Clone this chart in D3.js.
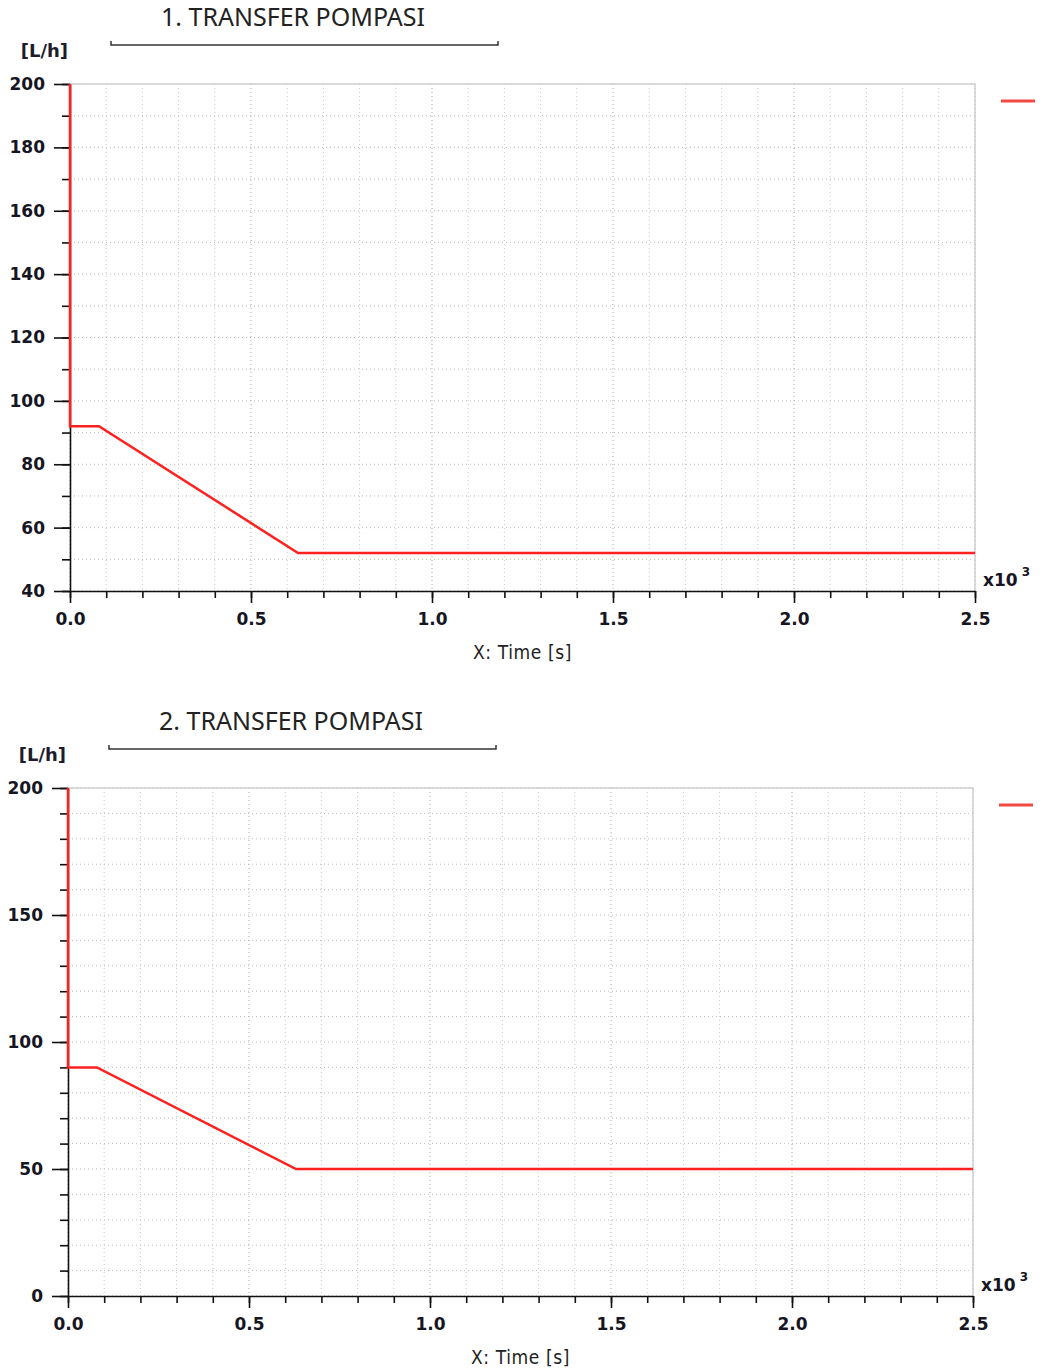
<!DOCTYPE html>
<html lang="en">
<head>
    <meta charset="utf-8" />
    <script src="https://cdn.jsdelivr.net/npm/d3@7"></script>
    <title>Transfer Pompasi</title>
    <style>
        body { margin: 0; background: #fff; }
        svg { display: block; }
        .tick text { font-family: "DejaVu Sans", sans-serif; font-weight: bold; font-size: 17px; fill: #161622; }
    </style>
</head>
<body>
    <div id="container"></div>
    <script>
        // data (time in seconds, flow in L/h)
        const timeS = [0, 0, 80, 630, 2500];
        const flow1 = [200, 92, 92, 52, 52];
        const flow2 = [200, 90, 90, 50, 50];
        const titles = ["1. TRANSFER POMPASI", "2. TRANSFER POMPASI"];
        const xTicks = [0, 500, 1000, 1500, 2000, 2500];
        const xMinor = d3.range(0, 2501, 100);
        const y1Ticks = [40, 60, 80, 100, 120, 140, 160, 180, 200];
        const y1Minor = d3.range(40, 201, 10);
        const y2Ticks = [0, 50, 100, 150, 200];
        const y2Minor = d3.range(0, 201, 10);

        const W = 1040, H = 1371;
        const svg = d3.select("#container").append("svg").attr("width", W).attr("height", H);

        function drawChart(opt) {
            const g = svg.append("g");
            const x = d3.scaleLinear().domain([0, 2500]).range([opt.left, opt.right]);
            const y = d3.scaleLinear().domain(opt.yDomain).range([opt.bottom, opt.top]);

            // dotted grid
            g.append("g").selectAll("line").data(opt.yMinor).join("line")
                .attr("x1", opt.left).attr("x2", opt.right)
                .attr("y1", d => y(d)).attr("y2", d => y(d))
                .attr("stroke", "#bdbdbd").attr("stroke-dasharray", "1,3");
            g.append("g").selectAll("line").data(xMinor).join("line")
                .attr("y1", opt.top).attr("y2", opt.bottom)
                .attr("x1", d => x(d)).attr("x2", d => x(d))
                .attr("stroke", d => d % 500 == 0 ? "#a8a8a8" : "#c8c8c8").attr("stroke-dasharray", "1,3");

            // top and right frame
            g.append("path")
                .attr("d", "M" + opt.left + "," + opt.top + "H" + opt.right + "V" + opt.bottom)
                .attr("fill", "none").attr("stroke", "#cfcfcf").attr("stroke-width", 1.5);

            // minor ticks
            g.append("g").attr("transform", "translate(" + opt.left + ",0)")
                .call(d3.axisLeft(y).tickValues(opt.yMinor).tickSize(8).tickFormat(""))
                .call(a => a.select(".domain").remove());
            g.append("g").attr("transform", "translate(0," + opt.bottom + ")")
                .call(d3.axisBottom(x).tickValues(xMinor).tickSize(7).tickFormat(""))
                .call(a => a.select(".domain").remove());

            // major axes
            g.append("g").attr("transform", "translate(" + opt.left + ",0)")
                .call(d3.axisLeft(y).tickValues(opt.yTicks).tickSize(16).tickSizeOuter(0).tickPadding(9));
            g.append("g").attr("transform", "translate(0," + opt.bottom + ")")
                .call(d3.axisBottom(x).tickValues(xTicks).tickSize(12).tickSizeOuter(0).tickPadding(10)
                    .tickFormat(d => (d / 1000).toFixed(1)));
            g.selectAll(".tick line, .domain").attr("stroke", "#111").attr("stroke-width", 1.6);

            // series
            const pts = timeS.map((t, i) => [t, opt.values[i]]);
            g.append("path").datum(pts)
                .attr("d", d3.line().x(d => x(d[0])).y(d => y(d[1])))
                .attr("fill", "none").attr("stroke", "#ff2020").attr("stroke-width", 2.5);

            // legend swatch
            g.append("line")
                .attr("x1", opt.right + 26).attr("x2", opt.right + 60)
                .attr("y1", opt.top + 17).attr("y2", opt.top + 17)
                .attr("stroke", "#f24a42").attr("stroke-width", 3);

            // title + bracket
            g.append("text").attr("x", opt.left + 223).attr("y", opt.top - 58)
                .attr("text-anchor", "middle")
                .style("font-family", "'Noto Sans', sans-serif").style("font-size", "25px").style("fill", "#222")
                .text(opt.title);
            const by = opt.top - 39;
            g.append("path")
                .attr("d", "M" + (opt.left + 41) + "," + (by - 4) + "V" + by + "H" + (opt.left + 428) + "V" + (by - 4))
                .attr("fill", "none").attr("stroke", "#333").attr("stroke-width", 1.5);

            // unit label
            g.append("text").attr("x", opt.left - 2).attr("y", opt.top - 27)
                .attr("text-anchor", "end")
                .style("font-family", "'DejaVu Sans', sans-serif").style("font-weight", "bold").style("font-size", "18px").style("fill", "#1c1c2c")
                .text("[L/h]");

            // x10^3
            const e = g.append("text").attr("x", opt.right + 8).attr("y", opt.bottom - 5)
                .style("font-family", "'DejaVu Sans', sans-serif").style("font-weight", "bold").style("font-size", "17px").style("fill", "#161622");
            e.append("tspan").text("x10");
            e.append("tspan").attr("dx", 4).attr("dy", -10).style("font-size", "12px").text("3");

            // x title
            g.append("text").attr("x", (opt.left + opt.right) / 2).attr("y", opt.bottom + 68)
                .attr("text-anchor", "middle")
                .style("font-family", "'DejaVu Sans Condensed', 'DejaVu Sans', sans-serif").style("font-size", "19px")
                .style("letter-spacing", "0.6px").style("fill", "#222")
                .text("X: Time [s]");
        }

        drawChart({ title: titles[0], values: flow1, yDomain: [40, 200], yTicks: y1Ticks, yMinor: y1Minor,
                    left: 70, right: 975, top: 84, bottom: 591 });
        drawChart({ title: titles[1], values: flow2, yDomain: [0, 200], yTicks: y2Ticks, yMinor: y2Minor,
                    left: 68, right: 973, top: 788, bottom: 1296 });
    </script>
</body>
</html>
